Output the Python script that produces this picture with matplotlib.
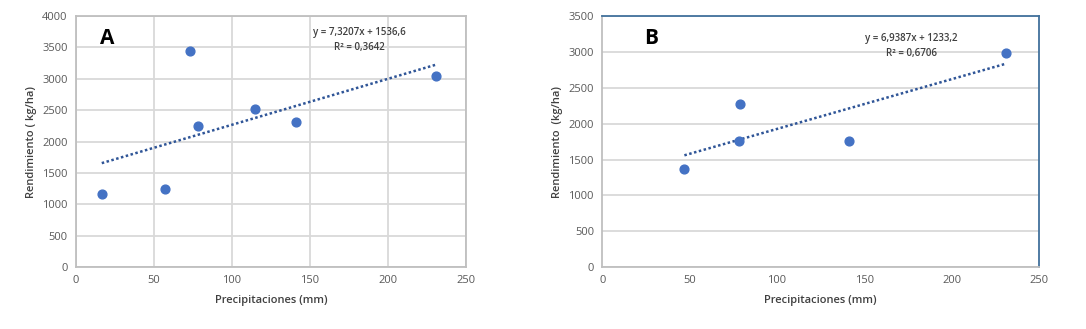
import numpy as np
import matplotlib
matplotlib.use("Agg")
import matplotlib.pyplot as plt

plt.rcParams['font.family'] = ['Open Sans', 'DejaVu Sans']

# panel A data
prec_a = [16.5, 57, 73, 78, 115, 141, 231]
rend_a = [1170, 1250, 3440, 2250, 2520, 2320, 3050]
slope_a, icpt_a = 7.3207, 1536.6
eq_a = "y = 7,3207x + 1536,6"
r2_a = "R² = 0,3642"

# panel B data
prec_b = [47, 79, 78, 141, 231]
rend_b = [1370, 2280, 1760, 1765, 2980]
slope_b, icpt_b = 6.9387, 1233.2
eq_b = "y = 6,9387x + 1233,2"
r2_b = "R² = 0,6706"

blue = "#4472C4"
gray_txt = "#595959"
dark_txt = "#404040"
grid_c = "#d9d9d9"

fig = plt.figure(figsize=(10.86, 3.29), dpi=100)
axA = fig.add_axes([0.070, 0.188, 0.359, 0.763])
axB = fig.add_axes([0.5546, 0.188, 0.4021, 0.763])


def style(ax, ymax, vgrid):
    ax.set_xlim(0, 250)
    ax.set_ylim(0, ymax)
    ax.set_xticks(np.arange(0, 251, 50))
    ax.set_yticks(np.arange(0, ymax + 1, 500))
    ax.tick_params(length=0, labelsize=8, colors=gray_txt, pad=6)
    ax.grid(axis='y', color=grid_c, lw=1.3)
    if vgrid:
        ax.grid(axis='x', color=grid_c, lw=1.3)
    ax.set_axisbelow(True)
    for s in ax.spines.values():
        s.set_color("#bfbfbf")
        s.set_linewidth(1.3)
    ax.set_xlabel("Precipitaciones (mm)", fontsize=8, color=dark_txt,
                  fontweight='semibold', labelpad=6)


# A
style(axA, 4000, True)
xa = np.array([min(prec_a), max(prec_a)])
axA.plot(xa, slope_a * xa + icpt_a, ls=(0, (1, 1)), color="#2F5597", lw=1.8)
axA.scatter(prec_a, rend_a, s=40, color=blue, zorder=3)
axA.set_ylabel("Rendimiento ( kg/ha)", fontsize=8, color=dark_txt,
               fontweight='semibold', labelpad=4)
axA.text(20.3, 3650, "A", fontsize=15, fontweight='bold', ha='center', va='center')
axA.text(182, 3735, eq_a, fontsize=7, color=dark_txt, fontweight='semibold',
         ha='center', va='center')
axA.text(182, 3507, r2_a, fontsize=7, color=dark_txt, fontweight='semibold',
         ha='center', va='center')

# B
style(axB, 3500, False)
axB.spines['top'].set_color("#41719C")
axB.spines['right'].set_color("#41719C")
xb = np.array([min(prec_b), max(prec_b)])
axB.plot(xb, slope_b * xb + icpt_b, ls=(0, (1, 1)), color="#2F5597", lw=1.8)
axB.scatter(prec_b, rend_b, s=40, color=blue, zorder=3)
axB.set_ylabel("Rendimiento  (kg/ha)", fontsize=8, color=dark_txt,
               fontweight='semibold', labelpad=4)
axB.text(27.9, 3186, "B", fontsize=15, fontweight='bold', ha='center', va='center')
axB.text(177, 3186, eq_b, fontsize=7, color=dark_txt, fontweight='semibold',
         ha='center', va='center')
axB.text(177, 2981, r2_b, fontsize=7, color=dark_txt, fontweight='semibold',
         ha='center', va='center')

fig.savefig("out.png", dpi=100)
